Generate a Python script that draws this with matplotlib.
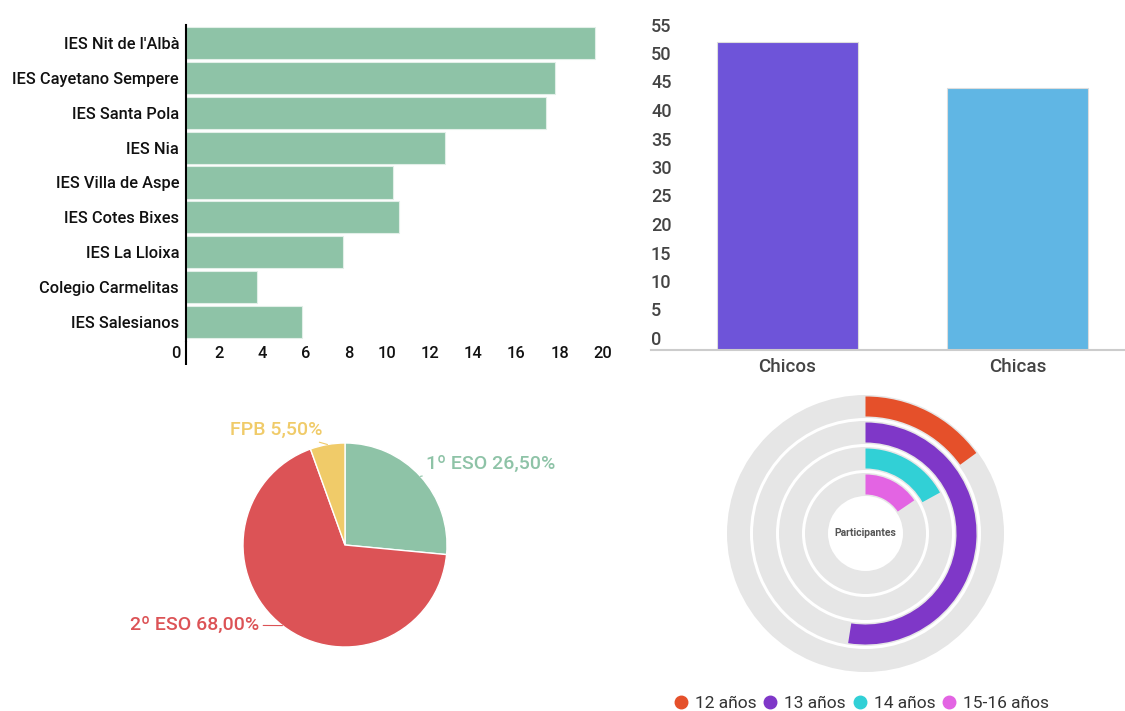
import numpy as np
import matplotlib
matplotlib.use('Agg')
import matplotlib.pyplot as plt
from matplotlib.lines import Line2D
from matplotlib.transforms import ScaledTranslation

plt.rcParams['font.family'] = ['Roboto', 'DejaVu Sans']

# participantes por centro (%)
centros = ["IES Nit de l'Albà", 'IES Cayetano Sempere', 'IES Santa Pola', 'IES Nia',
           'IES Villa de Aspe', 'IES Cotes Bixes', 'IES La Lloixa',
           'Colegio Carmelitas', 'IES Salesianos']
centros_pct = [19.0, 17.1, 16.7, 12.0, 9.6, 9.9, 7.3, 3.3, 5.4]
centros_ticks = [0, 2, 4, 6, 8, 10, 12, 14, 16, 18, 20]

# sexo (%)
sexo = ['Chicos', 'Chicas']
sexo_pct = [54, 46]
sexo_ticks = [0, 5, 10, 15, 20, 25, 30, 35, 40, 45, 50, 55]

# curso (%)
cursos = ['1º ESO', '2º ESO', 'FPB']
cursos_pct = [26.5, 68.0, 5.5]

# edad (%)
edades = ['12 años', '13 años', '14 años', '15-16 años']
edades_pct = [15.0, 52.5, 17.0, 15.5]

W, H = 1125, 711
fig = plt.figure(figsize=(W / 100, H / 100), dpi=100)

def box(x0, y0, x1, y1):
    # pixel box -> figure fractions
    return [x0 / W, 1 - y1 / H, (x1 - x0) / W, (y1 - y0) / H]

# ---- barras horizontales: centros
ax1 = fig.add_axes(box(186, 25, 617, 341))
y = np.arange(len(centros))
ax1.barh(y, centros_pct, height=0.92, color='#8ec3a7', edgecolor='#e2efe8', linewidth=0.8)
ax1.set_xlim(0, 20)
ax1.set_ylim(8.546, -0.517)
for s in ['top', 'right', 'bottom']:
    ax1.spines[s].set_visible(False)
ax1.spines['left'].set_color('black')
ax1.spines['left'].set_linewidth(1.5)
ax1.plot([0, 0], [0, -24 / 316], transform=ax1.transAxes, color='black', lw=1.5,
         clip_on=False, solid_capstyle='butt')
ax1.set_yticks(y, centros)
ax1.set_xticks(centros_ticks)
ax1.tick_params(axis='y', length=0, pad=5, labelsize=11.75, labelcolor='#111111')
ax1.tick_params(axis='x', length=0, pad=3.5, labelsize=11.75, labelcolor='#111111')
for lab in ax1.get_yticklabels():
    lab.set_fontweight('medium')
for lab in ax1.get_xticklabels():
    lab.set_ha('right')
    lab.set_fontweight('medium')
    lab.set_transform(lab.get_transform() + ScaledTranslation(-0.05, 0, fig.dpi_scale_trans))

# ---- barras verticales: sexo
ax2 = fig.add_axes(box(651, 36.5, 1125, 350))
ax2.bar([0, 1], sexo_pct, width=0.613, color=['#6e54d9', '#60b6e4'],
        edgecolor='#dddddd', linewidth=0.8)
ax2.set_xlim(-0.593, 1.467)
ax2.set_ylim(0, 55)
for s in ['top', 'right', 'left']:
    ax2.spines[s].set_visible(False)
ax2.spines['bottom'].set_color('#cccccc')
ax2.spines['bottom'].set_linewidth(1.5)
ax2.set_xticks([0, 1], sexo)
ax2.set_yticks(sexo_ticks)
ax2.tick_params(axis='x', length=0, pad=6, labelsize=13.5, labelcolor='#444444')
ax2.tick_params(axis='y', length=0, pad=0, labelsize=13, labelcolor='#444444')
for lab in ax2.get_xticklabels():
    lab.set_fontweight('medium')
for lab in ax2.get_yticklabels():
    lab.set_ha('left')
    lab.set_fontweight('medium')
    lab.set_transform(lab.get_transform() + ScaledTranslation(0, 0.12, fig.dpi_scale_trans))

# ---- tarta: curso
ax3 = fig.add_axes(box(217.5, 417.5, 472.5, 672.5))
pie_colors = ['#8ec3a7', '#dc5356', '#f0cb69']
ax3.pie(cursos_pct, colors=pie_colors, startangle=90, counterclock=False,
        wedgeprops=dict(edgecolor='white', linewidth=1))
ax3.set_xlim(-1.25, 1.25)
ax3.set_ylim(-1.25, 1.25)
ax3.set_aspect('equal')
label_pos = [(0.79, 0.794), (-0.843, -0.784), (-0.216, 1.127)]
label_ha = ['left', 'right', 'right']
cum = np.cumsum([0] + cursos_pct[:-1])
for name, v, c0, col, pos, ha in zip(cursos, cursos_pct, cum, pie_colors, label_pos, label_ha):
    ang = np.deg2rad(90 - 360 * (c0 + v / 2) / 100)
    txt = f'{name} {v:.2f}%'.replace('.', ',')
    ax3.annotate(txt, xy=(np.cos(ang), np.sin(ang)), xytext=pos, ha=ha, va='center',
                 fontsize=14, color=col, fontweight='medium',
                 arrowprops=dict(arrowstyle='-', color=col, lw=0.8, shrinkA=1, shrinkB=0))

# ---- radial: edad
ax4 = fig.add_axes(box(725.5, 393.5, 1005.5, 673.5), projection='polar')
ax4.set_theta_zero_location('N')
ax4.set_theta_direction(-1)
ax4.set_ylim(0, 140)
ax4.axis('off')
ring_colors = ['#e5502a', '#7f37c8', '#31d0d6', '#e364e3']
ring_r = [127, 101, 75, 49]
for v, col, rc in zip(edades_pct, ring_colors, ring_r):
    ax4.bar(0, 23, width=2 * np.pi, bottom=rc - 11.5, color='#e6e6e6', align='edge')
    ax4.bar(0, 20, width=2 * np.pi * v / 100, bottom=rc - 10, color=col, align='edge')
ax4.text(0, 0, 'Participantes', ha='center', va='center', fontsize=7.5,
         color='#555555', fontweight='bold')

handles = [Line2D([], [], marker='o', ls='', color=c, markersize=9) for c in ring_colors]
fig.legend(handles, edades, loc='center', bbox_to_anchor=(861.5 / W, 1 - 703 / H), ncol=4,
           frameon=False, fontsize=12.5, labelcolor='#333333', handlelength=0.8,
           handletextpad=0.4, columnspacing=0.4, borderpad=0)

fig.savefig('out.png', dpi=100)
